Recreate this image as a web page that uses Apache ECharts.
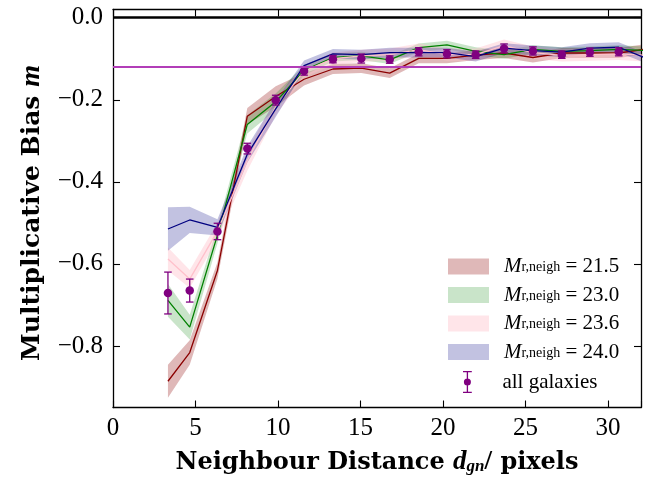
<!DOCTYPE html>
<html>
<head>
<meta charset="utf-8">
<script src="https://cdn.jsdelivr.net/npm/echarts@6/dist/echarts.min.js"></script>
<style>html,body{margin:0;padding:0;background:#fff;}#c{width:657px;height:481px;}</style>
</head>
<body>
<div id="c"></div>
<script>
// ---- data ----
const xs = [3.33, 4.65, 6.33, 8.14, 9.86, 11.58, 13.33, 15.05, 16.77, 18.53, 20.24, 21.98, 23.7, 25.45, 27.2, 28.9, 30.65, 32.37];
const pointX = [3.33, 4.65, 6.33, 8.14, 9.86, 11.58, 13.33, 15.05, 16.77, 18.53, 20.24, 21.98, 23.7, 25.45, 27.2, 28.9, 30.65];
const pointM = [-0.671, -0.665, -0.521, -0.319, -0.201, -0.130, -0.101, -0.0995, -0.102, -0.083, -0.088, -0.090, -0.075, -0.081, -0.090, -0.084, -0.083];
const pointErr = [0.051, 0.028, 0.020, 0.013, 0.012, 0.010, 0.009, 0.011, 0.009, 0.010, 0.010, 0.009, 0.011, 0.010, 0.009, 0.010, 0.010];

const m215 = [-0.886, -0.816, -0.616, -0.240, -0.192, -0.150, -0.125, -0.123, -0.135, -0.099, -0.099, -0.091, -0.086, -0.097, -0.086, -0.086, -0.086, -0.076];
const e215 = [0.040, 0.030, 0.020, 0.020, 0.025, 0.015, 0.012, 0.012, 0.012, 0.012, 0.012, 0.012, 0.012, 0.012, 0.012, 0.012, 0.012, 0.012];
const m230 = [-0.689, -0.754, -0.530, -0.260, -0.205, -0.128, -0.097, -0.093, -0.103, -0.073, -0.066, -0.082, -0.090, -0.077, -0.082, -0.080, -0.077, -0.080];
const e230 = [0.040, 0.030, 0.020, 0.022, 0.020, 0.012, 0.010, 0.010, 0.010, 0.010, 0.010, 0.010, 0.010, 0.010, 0.010, 0.010, 0.010, 0.010];
const m236 = [-0.588, -0.637, -0.520, -0.348, -0.218, -0.130, -0.100, -0.093, -0.090, -0.078, -0.090, -0.090, -0.068, -0.085, -0.092, -0.090, -0.088, -0.092];
const e236 = [0.028, 0.022, 0.020, 0.025, 0.020, 0.015, 0.015, 0.015, 0.015, 0.015, 0.015, 0.015, 0.015, 0.015, 0.015, 0.015, 0.015, 0.015];
const m240 = [-0.515, -0.493, -0.511, -0.333, -0.222, -0.117, -0.088, -0.090, -0.085, -0.085, -0.085, -0.095, -0.074, -0.080, -0.084, -0.074, -0.072, -0.100];
const e240 = [0.053, 0.032, 0.020, 0.020, 0.020, 0.013, 0.012, 0.012, 0.012, 0.012, 0.012, 0.012, 0.012, 0.012, 0.012, 0.012, 0.012, 0.012];

const magLabels = ['21.5', '23.0', '23.6', '24.0'];
const refBias = -0.117;
const xTicks = [0, 5, 10, 15, 20, 25, 30];
const yTicks = [0.0, -0.2, -0.4, -0.6, -0.8];
const yTickLabels = ['0.0', '\u22120.2', '\u22120.4', '\u22120.6', '\u22120.8'];

// ---- styles ----
const FONT = '"Liberation Serif", "DejaVu Serif", serif';
const BFONT = '"DejaVu Serif", "Liberation Serif", serif';
const lineColors = ['#8b0000', '#008000', '#ffc0cb', '#000080'];
const bandColors = ['rgba(139,0,0,0.28)', 'rgba(0,128,0,0.21)', 'rgba(255,192,203,0.42)', 'rgba(0,0,128,0.24)'];
const groups = [[m215, e215], [m230, e230], [m236, e236], [m240, e240]];
const names = magLabels.map(v => 'M = ' + v);

function bandRenderer(color) {
  return function (params, api) {
    if (params.dataIndexInside !== 0) return null;
    const n = params.dataInsideLength;
    const upper = [], lower = [];
    for (let j = 0; j < n; j++) {
      const x = api.value(0, j);
      upper.push(api.coord([x, api.value(2, j)]));
      lower.push(api.coord([x, api.value(1, j)]));
    }
    const pts = upper.concat(lower.reverse());
    const cs = params.coordSys;
    return {
      type: 'polygon',
      shape: { points: pts },
      style: { fill: color, stroke: null },
      clipPath: { type: 'rect', shape: { x: cs.x, y: cs.y, width: cs.width, height: cs.height } }
    };
  };
}

const series = [];
groups.forEach(([m, e], k) => {
  series.push({
    name: names[k], type: 'custom', z: 2, silent: true,
    data: xs.map((x, i) => [x, m[i] - e[i], m[i] + e[i]]),
    encode: { x: 0, y: [1, 2] },
    renderItem: bandRenderer(bandColors[k])
  });
  series.push({
    name: names[k] + ' line', type: 'line',
    data: xs.map((x, i) => [x, m[i]]),
    symbol: 'none', lineStyle: { color: lineColors[k], width: 1.3 }, silent: true, z: 2
  });
});

series.push({
  name: 'all galaxies err', type: 'custom', z: 3, silent: true,
  data: pointX.map((x, i) => [x, pointM[i], pointErr[i]]),
  renderItem: function (params, api) {
    const x = api.value(0), y = api.value(1), e = api.value(2);
    const top = api.coord([x, y + e]);
    const bot = api.coord([x, y - e]);
    const w = 3.8;
    const st = { stroke: '#800080', lineWidth: 1.3 };
    return {
      type: 'group', children: [
        { type: 'line', shape: { x1: top[0], y1: top[1], x2: bot[0], y2: bot[1] }, style: st },
        { type: 'line', shape: { x1: top[0] - w, y1: top[1], x2: top[0] + w, y2: top[1] }, style: st },
        { type: 'line', shape: { x1: bot[0] - w, y1: bot[1], x2: bot[0] + w, y2: bot[1] }, style: st }
      ]
    };
  }
});

series.push({
  name: 'all galaxies', type: 'scatter', z: 4, silent: true,
  data: pointX.map((x, i) => [x, pointM[i]]),
  symbol: 'circle', symbolSize: 8.5, itemStyle: { color: '#800080', opacity: 1 },
  markLine: {
    silent: true, symbol: 'none', label: { show: false }, animation: false,
    data: [
      { yAxis: 0, lineStyle: { color: '#000', width: 2.6, type: 'solid', opacity: 1 } },
      { yAxis: refBias, lineStyle: { color: '#b23db8', width: 1.8, type: 'solid', opacity: 1 } }
    ]
  }
});

const axisLine = { show: true, onZero: false, lineStyle: { color: '#000', width: 1.3 } };
const tickStyle = { color: '#000', width: 1.1 };
const legendRich = {
  i: { fontFamily: FONT, fontStyle: 'italic', fontSize: 21, color: '#000', lineHeight: 16, verticalAlign: 'middle' },
  s: { fontFamily: FONT, fontSize: 14, color: '#000', lineHeight: 5, verticalAlign: 'bottom' },
  t: { fontFamily: FONT, fontSize: 21, color: '#000', lineHeight: 16, verticalAlign: 'middle' }
};

const option = {
  animation: false,
  backgroundColor: '#fff',
  grid: { left: 113, right: 16, top: 9.5, bottom: 71, show: false },
  xAxis: [{
    type: 'value', min: 0, max: 32, interval: 5, position: 'bottom',
    axisLine: axisLine,
    axisTick: { show: true, inside: true, length: 7, lineStyle: tickStyle },
    axisLabel: { show: true, fontFamily: FONT, fontSize: 25, color: '#000', margin: 8,
      formatter: v => xTicks.indexOf(v) >= 0 ? String(v) : '' },
    splitLine: { show: false },
    name: 'Neighbour Distance {d|d}{s|gn}{n|/} pixels',
    nameLocation: 'middle', nameGap: 42,
    nameTextStyle: {
      fontFamily: BFONT, fontSize: 24, fontWeight: 'bold', color: '#000',
      rich: {
        d: { fontFamily: FONT, fontSize: 27, fontStyle: 'italic', color: '#000', lineHeight: 26, verticalAlign: 'middle' },
        s: { fontFamily: FONT, fontSize: 17, fontStyle: 'italic', color: '#000', lineHeight: 8, verticalAlign: 'bottom' },
        n: { fontFamily: FONT, fontSize: 27, color: '#000', lineHeight: 26, verticalAlign: 'middle' }
      }
    }
  }, {
    type: 'value', min: 0, max: 32, interval: 5, position: 'top',
    axisLine: axisLine,
    axisTick: { show: true, inside: true, length: 7, lineStyle: tickStyle },
    axisLabel: { show: false }, splitLine: { show: false }
  }],
  yAxis: [{
    type: 'value', min: -0.95, max: 0.02, position: 'left',
    axisLine: axisLine,
    axisTick: { show: true, inside: true, length: 7, lineStyle: tickStyle, customValues: yTicks },
    axisLabel: { show: true, fontFamily: FONT, fontSize: 25, color: '#000', margin: 10, customValues: yTicks,
      formatter: v => { const i = yTicks.findIndex(t => Math.abs(t - v) < 1e-9); return i >= 0 ? yTickLabels[i] : ''; } },
    splitLine: { show: false },
    name: 'Multiplicative Bias {m|m}',
    nameLocation: 'middle', nameGap: 67, nameRotate: 90,
    nameTextStyle: {
      fontFamily: BFONT, fontSize: 25, fontWeight: 'bold', color: '#000', padding: [0, 9, 0, 0],
      rich: { m: { fontFamily: FONT, fontSize: 28, fontStyle: 'italic', color: '#000' } }
    }
  }, {
    type: 'value', min: -0.95, max: 0.02, position: 'right',
    axisLine: axisLine,
    axisTick: { show: true, inside: true, length: 7, lineStyle: tickStyle, customValues: yTicks },
    axisLabel: { show: false }, splitLine: { show: false }
  }],
  legend: [{
    orient: 'vertical', left: 448, top: 256, padding: 0, itemWidth: 41, itemHeight: 16, itemGap: 7.5,
    selectedMode: false, icon: 'rect',
    data: names.map((n, k) => ({ name: n, icon: 'rect', itemStyle: { color: bandColors[k], borderWidth: 0 } })),
    formatter: n => '{i|M}{s|r,neigh}{t| = ' + n.replace('M = ', '') + '}',
    textStyle: { fontFamily: FONT, fontSize: 21, color: '#000', padding: [0, 0, 0, 10], rich: legendRich }
  }, {
    orient: 'vertical', left: 463, top: 371, padding: 0, itemWidth: 12, itemHeight: 22, itemGap: 10,
    selectedMode: false,
    data: [{ name: 'all galaxies',
      icon: 'path://M2,0H10V1.2H2Z M5.4,0H6.6V20H5.4Z M2,18.8H10V20H2Z M6,6.8A3.2,3.2 0 1 1 6,13.2A3.2,3.2 0 1 1 6,6.8Z',
      itemStyle: { color: '#800080' } }],
    textStyle: { fontFamily: FONT, fontSize: 21, color: '#000', padding: [0, 0, 0, 24] }
  }],
  series: series
};

const chart = echarts.init(document.getElementById('c'), null, { renderer: 'canvas' });
chart.setOption(option);
</script>
</body>
</html>
